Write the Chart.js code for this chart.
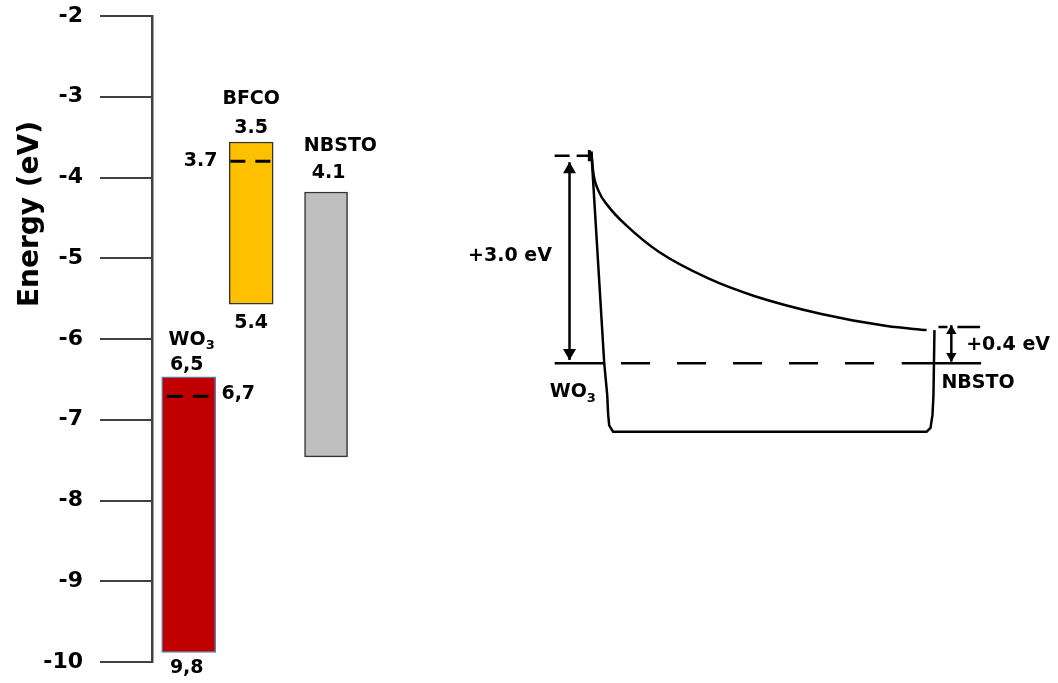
<!DOCTYPE html>
<html>
<head>
<meta charset="utf-8">
<script src="https://cdn.jsdelivr.net/npm/chart.js@4"></script>
<style>
  body { margin: 0; background: #fff; }
  #wrap { width: 1058px; height: 683px; position: relative; }
</style>
</head>
<body>
<div id="wrap"><canvas id="chart"></canvas></div>
<script>
// ---- data (energies in eV, x in diagram units = px from the axis) ----
const materials = ['WO3', 'BFCO', 'NBSTO'];
const bandTop = [-6.47, -3.56, -4.18];
const bandBottom = [-9.88, -5.57, -7.46];
const fermiLevel = [-6.71, -3.80, null];
const topLabels = ['6,5', '3.5', '4.1'];
const bottomLabels = ['9,8', '5.4', ''];
const fermiLabels = ['6,7', '3.7', ''];
const yTickValues = [-2, -3, -4, -5, -6, -7, -8, -9, -10];

// junction sketch (right side)
const curveX = [443, 445, 450, 461, 478, 511, 561, 608, 675, 741, 781];
const curveE = [-3.68, -3.94, -4.16, -4.37, -4.59, -4.92, -5.25, -5.47, -5.69, -5.84, -5.89];
const edgeX = [443, 456, 459, 460, 461, 465, 781, 785, 787, 788, 789];
const edgeE = [-3.68, -6.30, -6.69, -6.94, -7.07, -7.15, -7.15, -7.10, -6.94, -6.69, -5.89];
const fermiJunction = -6.30;
const wo3Vacuum = -3.73;
const nbstoVacuum = -5.85;
const offsetLabels = ['+3.0 eV', '+0.4 eV'];

// ---- layout bits ----
const barX = [37, 100, 175.5];
const barWidth = [54, 44, 43];
const barColors = ['#C00000', '#FFC000', '#BFBFBF'];
const barBorders = ['#5B7FA6', '#333333', '#333333'];

const pts = (xs, ys) => xs.map((x, i) => ({ x: x, y: ys[i] }));
const seg = (x0, x1, y) => [{ x: x0, y: y }, { x: x1, y: y }];

function lineSet(data, opts) {
  return Object.assign({
    type: 'line', data: data, borderColor: '#000', borderWidth: 2.5,
    pointRadius: 0, fill: false, tension: 0, order: 1
  }, opts || {});
}

const datasets = [];

// band bars
materials.forEach((m, i) => {
  datasets.push({
    type: 'bar', label: m,
    data: [{ x: barX[i], y: [bandBottom[i], bandTop[i]] }],
    backgroundColor: barColors[i], borderColor: barBorders[i],
    borderWidth: 1.5, borderSkipped: false, barThickness: barWidth[i],
    grouped: false, order: 2
  });
});

// dashed levels inside bars
datasets.push(lineSet(seg(15, 57, fermiLevel[0]), { borderWidth: 3, borderDash: [16, 10] }));
datasets.push(lineSet(seg(79, 121, fermiLevel[1]), { borderWidth: 3, borderDash: [15, 10] }));

// junction sketch
datasets.push(lineSet(pts(curveX, curveE), { cubicInterpolationMode: 'monotone' }));
datasets.push(lineSet(pts(edgeX, edgeE), {}));
datasets.push(lineSet(seg(406, 456, fermiJunction), {}));
datasets.push(lineSet(seg(473, 753, fermiJunction), { borderDash: [29, 27] }));
datasets.push(lineSet(seg(756, 836, fermiJunction), {}));
datasets.push(lineSet(seg(406, 440, wo3Vacuum), { borderDash: [15, 7] }));
datasets.push(lineSet([{ x: 441, y: -3.66 }, { x: 441, y: -3.80 }], { borderWidth: 3 }));
datasets.push(lineSet(seg(793, 835, nbstoVacuum), { borderDash: [9, 10, 30, 10] }));

// arrows
datasets.push(lineSet([{ x: 421, y: -3.81 }, { x: 421, y: -6.26 }], {}));
datasets.push(lineSet([{ x: 421, y: -3.90 }, { x: 421, y: -6.17 }], {
  showLine: false, pointStyle: 'triangle', pointRadius: 7.5, pointRotation: [0, 180],
  pointBackgroundColor: '#000', pointBorderWidth: 0
}));
datasets.push(lineSet([{ x: 806, y: -5.83 }, { x: 806, y: -6.28 }], {}));
datasets.push(lineSet([{ x: 806, y: -5.90 }, { x: 806, y: -6.21 }], {
  showLine: false, pointStyle: 'triangle', pointRadius: 6, pointRotation: [0, 180],
  pointBackgroundColor: '#000', pointBorderWidth: 0
}));

// text placed in data coordinates
const textSpots = [
  { text: 'BFCO', x: 100, y: -3.03, align: 'center' },
  { text: topLabels[1], x: 100, y: -3.39, align: 'center' },
  { text: fermiLabels[1], x: 66, y: -3.80, align: 'right' },
  { text: bottomLabels[1], x: 100, y: -5.80, align: 'center' },
  { text: 'NBSTO', x: 190, y: -3.61, align: 'center' },
  { text: topLabels[2], x: 178, y: -3.94, align: 'center' },
  { text: 'WO', sub: '3', x: 40, y: -6.01, align: 'center' },
  { text: topLabels[0], x: 35, y: -6.32, align: 'center' },
  { text: fermiLabels[0], x: 70, y: -6.68, align: 'left' },
  { text: bottomLabels[0], x: 35, y: -10.07, align: 'center' },
  { text: offsetLabels[0], x: 361, y: -4.97, align: 'center' },
  { text: offsetLabels[1], x: 821, y: -6.07, align: 'left' },
  { text: 'WO', sub: '3', x: 401, y: -6.66, align: 'left' },
  { text: 'NBSTO', x: 796, y: -6.54, align: 'left' }
];

const FONT = '"DejaVu Sans", sans-serif';

const textPlugin = {
  id: 'textPlugin',
  afterDatasetsDraw(chart) {
    const ctx = chart.ctx;
    const xs = chart.scales.x, ys = chart.scales.y;
    ctx.save();
    ctx.fillStyle = '#000';
    ctx.textBaseline = 'middle';
    textSpots.forEach(t => {
      const px = xs.getPixelForValue(t.x);
      const py = ys.getPixelForValue(t.y);
      ctx.font = 'bold 19px ' + FONT;
      const w = ctx.measureText(t.text).width;
      let sw = 0;
      if (t.sub) { ctx.font = 'bold 13px ' + FONT; sw = ctx.measureText(t.sub).width; }
      const total = w + sw;
      let left = px;
      if (t.align === 'center') left = px - total / 2;
      else if (t.align === 'right') left = px - total;
      ctx.textAlign = 'left';
      ctx.font = 'bold 19px ' + FONT;
      ctx.fillText(t.text, left, py);
      if (t.sub) {
        ctx.font = 'bold 13px ' + FONT;
        ctx.fillText(t.sub, left + w, py + 6);
      }
    });
    // axis title
    ctx.translate(38, 214);
    ctx.rotate(-Math.PI / 2);
    ctx.font = 'bold 28px ' + FONT;
    ctx.textAlign = 'center';
    ctx.textBaseline = 'alphabetic';
    ctx.fillText('Energy (eV)', 0, 0);
    ctx.restore();
  }
};

new Chart(document.getElementById('chart'), {
  type: 'bar',
  data: { datasets: datasets },
  options: {
    responsive: true,
    maintainAspectRatio: false,
    animation: false,
    layout: { padding: { top: 16, bottom: 21, left: 0, right: 0 } },
    plugins: { legend: { display: false }, tooltip: { enabled: false } },
    scales: {
      x: { type: 'linear', display: false, min: 0, max: 906, offset: false },
      y: {
        type: 'linear', min: -10, max: -2,
        afterFit(scale) {
          scale.width = 152;
          scale.paddingTop = 0;
          scale.paddingBottom = 0;
        },
        afterBuildTicks(scale) { scale.ticks = yTickValues.map(v => ({ value: v })); },
        border: { display: true, color: '#404040', width: 2.5 },
        grid: { drawOnChartArea: false, drawTicks: true, tickLength: 52, color: '#404040', lineWidth: 2 },
        ticks: { color: '#000', padding: 17, font: { family: FONT, size: 22, weight: 'bold' } }
      }
    }
  },
  plugins: [textPlugin]
});
</script>
</body>
</html>
